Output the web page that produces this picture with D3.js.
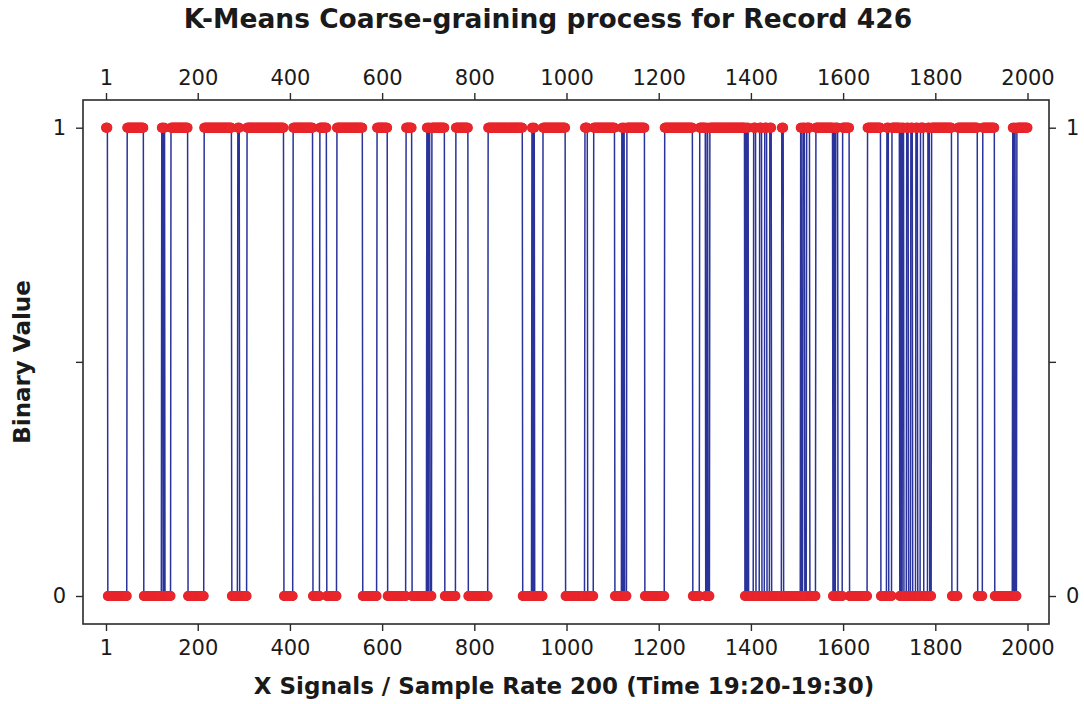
<!DOCTYPE html>
<html>
<head>
<meta charset="utf-8">
<script src="https://cdn.jsdelivr.net/npm/d3@7"></script>
<style>
  html, body { margin: 0; padding: 0; background: #ffffff; }
  svg { display: block; }
  text { font-family: "DejaVu Sans", Verdana, sans-serif; fill: #1a1a1a; }
</style>
</head>
<body>
<svg id="chart" width="1084" height="704"></svg>
<script>
// Binary sequence after k-means coarse-graining: state of sample 1 and the
// sample indices at which the state flips (0 <-> 1).
const sampleCount = 2000;
const startState = 1;
const switchPoints = [
  5, 47, 83, 122, 125, 127, 129, 142, 179, 214, 274, 287, 291, 307, 387, 407, 450, 465, 480, 502,
  558, 589, 612, 652, 665, 697, 699, 701, 704, 708, 736, 760, 787, 830, 905, 925, 927, 929, 931, 949, 998,
  1040, 1046, 1059, 1105, 1120, 1122, 1124, 1126, 1131, 1170, 1213, 1274, 1289, 1302, 1305, 1307, 1311,
  1387, 1389, 1391, 1393, 1395, 1406, 1411, 1419, 1424, 1430, 1435, 1441, 1445, 1467, 1471,
  1508, 1510, 1513, 1517, 1521, 1528, 1541,
  1578, 1580, 1582, 1584, 1589, 1599, 1614, 1653, 1682, 1695, 1699, 1706,
  1723, 1725, 1727, 1729, 1732, 1738, 1742, 1747, 1751, 1758, 1762, 1768, 1775, 1784, 1788, 1792,
  1836, 1849, 1892, 1903, 1929, 1968, 1970, 1972, 1974, 1977
];
const xTickValues = [1, 200, 400, 600, 800, 1000, 1200, 1400, 1600, 1800, 2000];
const yTickValues = [0, 0.5, 1];
const yTickLabels = ["0", "", "1"];

const titleText = "K-Means Coarse-graining process for Record 426";
const xLabelText = "X Signals / Sample Rate 200 (Time 19:20-19:30)";
const yLabelText = "Binary Value";

// Expand the switch list into one value per sample.
const flips = new Set(switchPoints);
const series = [];
let state = startState;
for (let i = 1; i <= sampleCount; i++) {
  if (flips.has(i)) state = 1 - state;
  series.push({ i, v: state });
}

const svg = d3.select("#chart");
const frame = { left: 83, right: 1049, top: 100, bottom: 624 };

const x = d3.scaleLinear().domain([1, 2000]).range([106, 1027.5]);
const y = d3.scaleLinear().domain([0, 1]).range([596, 127.7]);

// Plot frame
svg.append("rect")
  .attr("x", frame.left).attr("y", frame.top)
  .attr("width", frame.right - frame.left).attr("height", frame.bottom - frame.top)
  .attr("fill", "#ffffff").attr("stroke", "#2a2a2a").attr("stroke-width", 1.6);

// Axes on all four sides
function styleAxis(g) {
  g.select(".domain").remove();
  g.selectAll(".tick line").attr("stroke", "#2a2a2a").attr("stroke-width", 1.4);
  g.selectAll(".tick text").style("font-size", "21px").attr("fill", "#1a1a1a");
}
svg.append("g").attr("transform", `translate(0,${frame.bottom})`)
  .call(d3.axisBottom(x).tickValues(xTickValues).tickFormat(d3.format("d")).tickSize(7).tickPadding(9))
  .call(styleAxis);
svg.append("g").attr("transform", `translate(0,${frame.top})`)
  .call(d3.axisTop(x).tickValues(xTickValues).tickFormat(d3.format("d")).tickSize(7).tickPadding(8))
  .call(styleAxis);
svg.append("g").attr("transform", `translate(${frame.left},0)`)
  .call(d3.axisLeft(y).tickValues(yTickValues).tickFormat((d, k) => yTickLabels[k]).tickSize(7).tickPadding(10))
  .call(styleAxis);
svg.append("g").attr("transform", `translate(${frame.right},0)`)
  .call(d3.axisRight(y).tickValues(yTickValues).tickFormat((d, k) => yTickLabels[k]).tickSize(7).tickPadding(10))
  .call(styleAxis);

// Connecting line between consecutive samples
const line = d3.line().x(d => x(d.i)).y(d => y(d.v));
svg.append("path")
  .datum(series)
  .attr("d", line)
  .attr("fill", "none")
  .attr("stroke", "#2a3399")
  .attr("stroke-width", 1.5);

// One marker per sample
svg.append("g")
  .selectAll("circle")
  .data(series)
  .join("circle")
  .attr("cx", d => x(d.i))
  .attr("cy", d => y(d.v))
  .attr("r", 5)
  .attr("fill", "#e8262b");

// Titles
svg.append("text")
  .attr("x", 548).attr("y", 28)
  .attr("text-anchor", "middle")
  .style("font-size", "26.5px").style("font-weight", "bold")
  .text(titleText);

svg.append("text")
  .attr("x", 564).attr("y", 694)
  .attr("text-anchor", "middle")
  .style("font-size", "23px").style("font-weight", "bold")
  .text(xLabelText);

svg.append("text")
  .attr("transform", "translate(30,362) rotate(-90)")
  .attr("text-anchor", "middle")
  .style("font-size", "23px").style("font-weight", "bold")
  .text(yLabelText);
</script>
</body>
</html>
